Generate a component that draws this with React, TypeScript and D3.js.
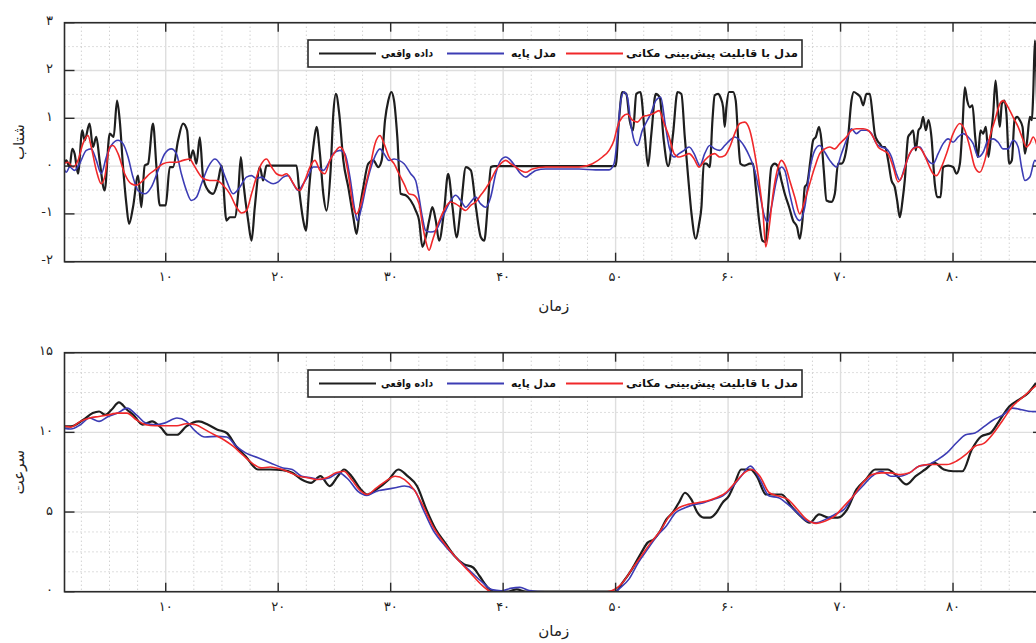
import React from 'react';
import * as d3 from 'd3';

type Pt = [number, number];

// shared time axis
const timeDomain = [1, 88];
const timeTicks = [10, 20, 30, 40, 50, 60, 70, 80];
const timeTickLabels = ['۱۰', '۲۰', '۳۰', '۴۰', '۵۰', '۶۰', '۷۰', '۸۰'];
const timeTitle = 'زمان';

const legendNames = ['داده واقعی', 'مدل پایه', 'مدل با قابلیت پیش‌بینی مکانی'];
const seriesColors = ['#1e1e1e', '#3c3cb4', '#f0282a'];

// acceleration panel
const accDomain = [-2, 3];
const accTicks = [-2, -1, 0, 1, 2, 3];
const accTickLabels = ['-۲', '-۱', '۰', '۱', '۲', '۳'];
const accTitle = 'شتاب';

const accReal: Pt[] = [
  [1.0, 0.08], [1.16, 0.12], [1.45, -0.02], [1.69, 0.36], [1.9, 0.26], [2.2, -0.16], [2.58, 0.75], [2.79, 0.54],
  [3.23, 0.89], [3.53, 0.4], [3.83, 0.61], [4.12, 0.12], [4.57, -0.51], [5.02, 0.68], [5.37, 0.61], [5.67, 1.37],
  [5.91, 0.96], [6.2, 0.0], [6.5, -0.79], [6.74, -1.21], [7.09, -0.86], [7.54, -0.2], [7.83, -0.86], [8.13, 0.01],
  [8.43, 0.05], [8.87, 0.89], [9.17, 0.0], [9.47, -0.82], [10, -0.82], [10.36, -0.02], [10.65, -0.02], [11.1, 0.54],
  [11.54, 0.89], [11.9, 0.75], [12.14, 0.12], [12.43, 0.33], [12.73, 0.05], [13.03, 0.6], [13.32, -0.23], [13.77, -0.51],
  [14.21, -0.58], [14.66, -0.3], [14.96, 0.01], [15.4, -1.14], [15.7, -1.07], [16.14, -1.07], [16.44, -0.58], [16.68, 0.19],
  [16.88, -0.3], [17.33, -1.14], [17.63, -1.56], [17.92, -0.86], [18.37, -0.02], [18.66, -0.3], [18.96, 0.01], [21.63, 0.01],
  [21.87, -0.51], [22.23, -1.14], [22.46, -1.35], [22.76, -0.44], [23.12, 0.4], [23.41, 0.82], [23.71, 0.26], [24.01, -0.58],
  [24.3, -0.93], [24.66, -0.09], [24.9, 1.09], [25.13, 1.51], [25.43, 1.09], [25.79, 0.12], [26.23, -0.44], [26.68, -1.07],
  [26.97, -1.42], [27.27, -0.86], [27.57, -0.44], [28.01, 0.05], [28.46, 0.12], [28.9, -0.02], [29.2, 0.12], [29.5, 0.96],
  [29.79, 1.37], [30.06, 1.55], [30.3, 1.37], [30.59, 0.61], [30.89, -0.58], [31.34, -0.61], [31.78, -0.72], [32.23, -0.93],
  [32.53, -1.14], [32.82, -1.69], [33.12, -1.49], [33.42, -1.14], [33.71, -0.86], [34.01, -1.14], [34.31, -1.56], [34.75, -0.93],
  [35.11, -0.16], [35.5, -0.86], [35.85, -1.49], [36.24, -0.86], [36.69, -0.02], [37.13, -0.09], [37.58, -0.86], [38.02, -1.49],
  [38.32, -1.56], [38.62, -0.86], [38.92, -0.02], [39.21, 0], [50.0, 0], [50.3, 0.96], [50.59, 1.55], [50.95, 1.51],
  [51.25, 0.96], [51.55, 0.75], [51.84, 1.51], [52.2, 1.55], [52.59, 0.68], [52.88, 0], [53.18, 0.68], [53.57, 1.51],
  [53.92, 1.44], [54.28, 0.54], [54.67, 0], [55.11, 0.68], [55.5, 1.55], [55.85, 1.51], [56.15, 0.61], [56.45, -0.23],
  [56.75, -1.0], [57.13, -1.52], [57.43, -1.2], [57.63, -0.86], [57.84, 0.05], [58.07, 0.05], [58.37, -0.02], [58.61, 0.96],
  [58.81, 1.48], [59.11, 1.51], [59.32, 1.44], [59.56, 1.23], [59.7, 0.82], [59.85, 1.23], [60.09, 1.55], [60.44, 1.55],
  [60.68, 1.37], [60.89, 0.61], [61.1, 0.05], [61.48, 0.01], [61.93, 0.05], [62.22, 0.05], [62.46, -0.44], [62.76, -1.14],
  [63.05, -1.56], [63.35, -1.59], [63.56, -0.86], [63.85, -0.02], [64.15, 0.05], [64.45, -0.02], [64.74, -0.3], [65.04, -0.58],
  [65.43, -0.86], [65.78, -1.14], [66.14, -1.28], [66.37, -1.52], [66.61, -1.14], [66.82, -0.44], [67.03, -0.37], [67.32, 0.12],
  [67.56, 0.54], [67.8, 0.61], [68.09, 0.82], [68.3, 0.54], [68.51, -0.09], [68.75, -0.72], [69.19, -0.75], [69.49, -0.58],
  [69.78, 0.05], [70.08, 0.05], [70.38, 0.19], [70.67, 0.61], [70.97, 1.37], [71.18, 1.55], [71.47, 1.51], [71.77, 1.44],
  [72.01, 1.27], [72.3, 1.51], [72.6, 1.51], [72.84, 1.09], [73.04, 0.68], [73.25, 0.54], [73.49, 0.47], [73.73, 0.4],
  [73.96, 0.4], [74.23, 0.12], [74.53, -0.3], [74.82, -0.44], [75.03, -0.72], [75.27, -1.07], [75.51, -0.72], [75.71, -0.3],
  [76.01, 0.61], [76.22, 0.68], [76.45, 0.75], [76.69, 0.33], [76.93, 0.75], [77.14, 0.82], [77.34, 1.03], [77.58, 0.75],
  [77.82, 0.96], [78.08, 0.61], [78.38, -0.37], [78.59, -0.65], [78.89, -0.65], [79.12, -0.02], [79.57, 0.01], [80.01, -0.02],
  [80.31, -0.16], [80.61, 0.05], [80.84, 0.82], [81.05, 1.65], [81.26, 1.37], [81.49, 1.23], [81.73, 1.27], [81.97, 0.61],
  [82.21, 0.19], [82.44, 0.75], [82.68, 0.68], [82.92, 0.82], [83.15, 0.19], [83.39, 0.68], [83.57, 1.09], [83.78, 1.79],
  [83.98, 1.23], [84.16, 0.82], [84.34, 1.3], [84.58, 1.37], [84.75, 1.09], [84.99, 0.05], [85.23, 0.12], [85.47, 0.96],
  [85.7, 1.03], [85.94, 0.96], [86.18, 0.82], [86.39, 0.26], [86.59, 0.54], [86.83, 1.03], [87.01, 0.96], [87.13, 1.51],
  [87.28, 2.63], [87.5, 1.0],
];

const accBase: Pt[] = [
  [1.0, -0.08], [1.16, -0.13], [1.45, -0.02], [1.9, -0.09], [2.34, 0.05], [2.94, 0.33], [3.38, 0.36], [3.83, 0.12],
  [4.27, -0.16], [4.72, 0.19], [5.16, 0.43], [5.76, 0.54], [6.2, 0.47], [6.65, 0.19], [7.09, -0.23], [7.54, -0.51],
  [8.13, -0.58], [8.72, -0.44], [9.32, -0.09], [9.91, 0.26], [10.5, 0.36], [10.95, 0.26], [11.39, -0.16], [11.84, -0.51],
  [12.28, -0.72], [12.73, -0.65], [13.18, -0.37], [13.77, -0.02], [14.36, 0.15], [14.81, 0.05], [15.4, -0.3], [15.99, -0.58],
  [16.59, -0.44], [17.18, -0.23], [17.63, -0.2], [18.07, -0.26], [18.52, -0.23], [18.96, -0.3], [19.55, -0.37], [20.0, -0.33],
  [20.45, -0.23], [20.89, -0.2], [21.34, -0.37], [21.78, -0.51], [22.23, -0.37], [22.67, -0.2], [23.12, -0.02], [23.56, -0.02],
  [24.01, -0.09], [24.45, 0.05], [24.9, 0.26], [25.49, 0.33], [25.93, 0.26], [26.38, -0.23], [26.82, -0.93], [27.03, -1.14],
  [27.42, -0.86], [27.86, -0.37], [28.46, 0.12], [29.05, 0.36], [29.41, 0.26], [29.85, 0.12], [30.3, 0.15], [30.74, 0.12],
  [31.19, 0.05], [31.78, -0.16], [32.22, -0.3], [32.52, -0.65], [32.82, -1.07], [33.11, -1.35], [33.56, -1.38], [34.0, -1.35],
  [34.45, -1.14], [34.89, -0.93], [35.34, -0.72], [35.78, -0.61], [36.23, -0.72], [36.67, -0.86], [37.12, -0.75], [37.56, -0.65],
  [38.0, -0.79], [38.45, -0.86], [38.89, -0.65], [39.34, -0.16], [39.78, 0.12], [40.23, 0.19], [40.67, 0.12], [41.12, -0.02],
  [41.56, -0.16], [42.01, -0.23], [42.45, -0.16], [42.9, -0.09], [43.79, -0.06], [45.27, -0.06], [46.75, -0.06], [48.23, -0.08],
  [49.42, -0.08], [49.86, 0.05], [50.16, 0.61], [50.46, 1.37], [50.75, 1.55], [51.05, 1.44], [51.35, 0.89], [51.64, 0.54],
  [51.94, 0.43], [52.38, 0.75], [52.83, 0.96], [53.12, 1.09], [53.57, 1.37], [54.01, 1.44], [54.4, 0.89], [54.76, 0.4],
  [55.2, 0.19], [55.64, 0.26], [56.09, 0.33], [56.53, 0.4], [56.98, 0.26], [57.36, 0.05], [57.48, 0.0], [57.92, 0.26],
  [58.37, 0.43], [58.81, 0.36], [59.26, 0.33], [59.7, 0.43], [60.15, 0.54], [60.59, 0.61], [61.04, 0.54], [61.48, 0.4],
  [61.93, 0.19], [62.37, -0.09], [62.82, -0.58], [63.26, -1.07], [63.5, -1.17], [63.85, -0.86], [64.3, -0.3], [64.74, -0.02],
  [65.04, -0.09], [65.48, -0.58], [65.93, -1.0], [66.37, -1.14], [66.82, -0.86], [67.26, -0.09], [67.71, 0.33], [68.15, 0.43],
  [68.6, 0.29], [69.04, 0.12], [69.64, -0.02], [70.08, 0.26], [70.52, 0.54], [70.97, 0.78], [71.41, 0.68], [71.86, 0.75],
  [72.3, 0.75], [72.75, 0.68], [73.19, 0.47], [73.64, 0.4], [74.08, 0.36], [74.53, 0.19], [74.97, -0.16], [75.27, -0.3],
  [75.71, -0.02], [76.16, 0.26], [76.6, 0.4], [77.05, 0.4], [77.49, 0.22], [77.94, 0.08], [78.23, 0.05], [78.68, 0.26],
  [79.12, 0.47], [79.57, 0.57], [80.01, 0.5], [80.46, 0.61], [80.9, 0.68], [81.35, 0.61], [81.79, 0.47], [82.24, 0.19],
  [82.68, 0.29], [83.12, 0.54], [83.57, 0.57], [84.01, 0.5], [84.46, 0.36], [84.9, 0.36], [85.35, 0.54], [85.79, 0.4],
  [86.09, -0.02], [86.39, -0.3], [86.83, -0.23], [87.28, 0.12], [87.6, 0.0],
];

const accSpatial: Pt[] = [
  [1.0, 0.06], [1.31, 0.08], [1.75, -0.02], [2.2, 0.12], [2.64, 0.47], [3.09, 0.64], [3.38, 0.4], [3.83, -0.09],
  [4.27, -0.37], [4.57, -0.23], [5.02, 0.4], [5.31, 0.43], [5.76, 0.26], [6.35, -0.16], [6.94, -0.37], [7.39, -0.4],
  [7.98, -0.3], [8.58, -0.16], [9.17, -0.06], [9.76, 0.05], [10.36, 0.08], [10.95, 0.08], [11.54, 0.12], [12.14, 0.15],
  [12.43, 0.05], [12.88, -0.13], [13.32, -0.26], [13.92, -0.3], [14.51, -0.3], [15.1, -0.4], [15.7, -0.58], [16.29, -0.86],
  [16.74, -0.98], [17.18, -0.93], [17.63, -0.58], [18.07, -0.23], [18.52, 0.05], [18.96, 0.15], [19.41, -0.02], [19.85, -0.16],
  [20.3, -0.2], [20.74, -0.16], [21.19, -0.3], [21.63, -0.47], [21.93, -0.51], [22.37, -0.3], [22.82, -0.02], [23.26, 0.12],
  [23.71, -0.09], [24.15, -0.16], [24.6, 0.12], [25.04, 0.29], [25.49, 0.4], [25.79, 0.33], [26.23, -0.16], [26.68, -0.86],
  [26.97, -1.0], [27.27, -0.86], [27.72, -0.44], [28.16, -0.02], [28.61, 0.47], [29.05, 0.64], [29.41, 0.47], [29.85, 0.19],
  [30.3, 0.05], [30.74, -0.16], [31.19, -0.37], [31.63, -0.58], [32.08, -0.61], [32.52, -0.79], [32.82, -1.21], [33.11, -1.56],
  [33.41, -1.76], [33.71, -1.56], [34.0, -1.35], [34.45, -1.07], [34.89, -0.86], [35.34, -0.75], [35.78, -0.79], [36.23, -0.86],
  [36.67, -0.93], [37.12, -0.82], [37.56, -0.75], [38.0, -0.61], [38.45, -0.47], [38.89, -0.3], [39.34, -0.09], [39.78, 0.05],
  [40.23, 0.12], [40.67, 0.05], [41.12, -0.02], [41.56, -0.09], [42.01, -0.13], [42.6, -0.06], [43.79, -0.02], [46.75, -0.02],
  [47.94, 0.05], [48.83, 0.19], [49.42, 0.33], [49.86, 0.54], [50.16, 0.82], [50.61, 1.03], [51.05, 1.09], [51.49, 0.96],
  [51.94, 0.92], [52.38, 1.03], [52.83, 1.06], [53.27, 1.09], [53.87, 1.16], [54.31, 0.89], [54.76, 0.61], [55.2, 0.26],
  [55.64, 0.19], [56.09, 0.22], [56.53, 0.26], [56.98, 0.15], [57.42, -0.02], [57.92, 0.12], [58.37, 0.22], [58.81, 0.26],
  [59.26, 0.19], [59.7, 0.22], [60.15, 0.4], [60.59, 0.68], [61.04, 0.89], [61.48, 0.92], [61.93, 0.75], [62.37, 0.26],
  [62.82, -0.44], [63.11, -1.0], [63.35, -1.69], [63.65, -1.28], [64.0, -0.58], [64.45, -0.02], [64.74, 0.12], [65.13, -0.02],
  [65.48, -0.3], [65.93, -0.65], [66.37, -1.0], [66.82, -0.72], [67.26, -0.37], [67.71, -0.02], [68.15, 0.26], [68.6, 0.36],
  [69.04, 0.4], [69.49, 0.36], [69.93, 0.47], [70.52, 0.61], [70.97, 0.75], [71.41, 0.78], [72.01, 0.78], [72.45, 0.75],
  [72.9, 0.61], [73.34, 0.4], [73.79, 0.33], [74.23, 0.26], [74.68, -0.02], [75.12, -0.33], [75.56, -0.16], [76.01, 0.19],
  [76.45, 0.36], [76.9, 0.4], [77.34, 0.29], [77.79, 0.05], [78.23, -0.16], [78.53, -0.2], [78.97, -0.02], [79.42, 0.26],
  [80.01, 0.68], [80.6, 0.89], [81.05, 0.75], [81.49, 0.4], [81.94, -0.02], [82.38, -0.13], [82.83, 0.12], [83.27, 0.61],
  [83.72, 0.96], [84.16, 1.3], [84.46, 1.37], [84.9, 1.23], [85.35, 1.02], [85.79, 0.82], [86.24, 0.54], [86.53, 0.4],
  [86.83, 0.47], [87.13, 0.61], [87.5, 0.4],
];

// speed panel
const speedDomain = [0, 15];
const speedTicks = [0, 5, 10, 15];
const speedTickLabels = ['۰', '۵', '۱۰', '۱۵'];
const speedTitle = 'سرعت';

const speedReal: Pt[] = [
  [1.0, 10.38], [1.57, 10.38], [2.68, 10.79], [3.51, 11.21], [4.07, 11.31], [4.62, 11.1], [5.18, 11.42], [5.84, 11.88],
  [6.56, 11.42], [7.12, 11.1], [7.95, 10.48], [8.78, 10.69], [9.61, 10.27], [10.17, 9.85], [11.0, 9.85], [11.83, 10.38],
  [12.94, 10.69], [13.77, 10.48], [14.6, 10.17], [15.43, 9.96], [16.26, 9.13], [17.1, 8.5], [18.2, 7.67], [19.31, 7.67],
  [20.42, 7.63], [21.25, 7.46], [22.08, 7.04], [22.92, 6.83], [23.75, 7.25], [24.58, 6.63], [25.3, 7.25], [25.85, 7.67],
  [26.52, 7.25], [27.35, 6.42], [27.9, 6.1], [28.74, 6.42], [29.84, 7.04], [30.68, 7.67], [31.51, 7.25], [32.34, 6.63],
  [33.17, 5.17], [34.0, 3.92], [34.83, 3.08], [35.67, 2.25], [36.5, 1.73], [37.33, 1.52], [37.88, 1.0], [38.71, 0.21],
  [39.27, 0], [40.38, 0], [41.2, 0.15], [42.0, 0], [49.97, 0], [50.63, 0.58], [51.46, 1.42], [52.29, 2.46],
  [52.85, 3.08], [53.4, 3.29], [53.96, 3.81], [54.51, 4.54], [55.07, 4.96], [55.62, 5.58], [56.17, 6.21], [56.73, 5.79],
  [57.28, 4.96], [57.84, 4.65], [58.39, 4.65], [58.95, 4.96], [59.5, 5.58], [60.06, 6.0], [60.61, 6.83], [61.16, 7.67],
  [61.99, 7.67], [62.55, 7.25], [63.38, 6.1], [64.77, 6.1], [65.6, 5.38], [66.43, 4.75], [67.26, 4.33], [68.09, 4.85],
  [68.92, 4.65], [69.76, 4.65], [70.59, 5.17], [71.42, 6.42], [72.25, 7.04], [73.08, 7.67], [74.19, 7.67], [75.02, 7.25],
  [75.85, 6.73], [76.68, 7.25], [77.52, 7.67], [78.35, 8.08], [79.18, 7.67], [80.01, 7.56], [80.84, 7.56], [81.67, 8.92],
  [82.51, 9.75], [83.34, 9.96], [84.17, 10.79], [85.0, 11.63], [85.83, 12.04], [86.66, 12.46], [87.38, 13.1],
];

const speedBase: Pt[] = [
  [1.0, 10.25], [1.57, 10.21], [2.41, 10.48], [3.24, 10.9], [4.07, 10.69], [4.9, 11.0], [5.73, 11.21], [6.56, 11.52],
  [7.39, 11.1], [8.23, 10.58], [9.06, 10.48], [9.89, 10.58], [11.0, 10.9], [11.83, 10.69], [12.66, 10.06], [13.49, 9.71],
  [14.6, 9.75], [15.43, 9.71], [16.26, 9.13], [17.1, 8.71], [18.2, 8.4], [19.31, 8.08], [20.42, 7.77], [21.25, 7.67],
  [22.08, 7.25], [22.92, 7.15], [23.75, 7.04], [24.58, 7.15], [25.41, 7.46], [26.24, 7.04], [27.07, 6.31], [27.9, 6.04],
  [28.74, 6.31], [29.57, 6.42], [30.4, 6.52], [31.23, 6.63], [32.06, 6.42], [32.89, 5.17], [33.73, 3.92], [34.83, 2.88],
  [35.94, 2.04], [37.05, 1.31], [38.16, 0.58], [38.99, 0.13], [39.82, 0.06], [40.65, 0.21], [41.49, 0.27], [42.32, 0.08],
  [43.7, 0], [49.97, 0], [50.35, 0.21], [51.19, 0.79], [52.02, 1.83], [52.85, 2.67], [53.68, 3.5], [54.51, 4.13],
  [55.34, 4.96], [56.17, 5.27], [57.01, 5.48], [57.84, 5.58], [58.67, 5.79], [59.5, 6.0], [60.33, 6.52], [61.16, 7.25],
  [61.99, 7.88], [62.83, 7.04], [63.66, 6.0], [64.49, 5.9], [65.32, 5.48], [66.15, 4.96], [66.98, 4.44], [67.82, 4.33],
  [68.65, 4.54], [69.48, 4.85], [70.31, 5.17], [71.14, 6.0], [71.97, 6.63], [72.81, 7.25], [73.64, 7.56], [74.47, 7.25],
  [75.3, 7.25], [76.13, 7.46], [76.96, 7.88], [77.79, 7.98], [78.63, 8.29], [79.46, 8.71], [80.29, 9.33], [81.12, 9.85],
  [81.95, 9.96], [82.78, 10.38], [83.61, 10.79], [84.45, 11.1], [85.28, 11.52], [86.11, 11.42], [86.94, 11.31], [87.5, 11.3],
];

const speedSpatial: Pt[] = [
  [1.0, 10.38], [1.57, 10.33], [2.41, 10.69], [3.24, 10.9], [4.07, 11.0], [4.9, 11.1], [5.73, 11.21], [6.56, 11.21],
  [7.39, 10.79], [8.23, 10.48], [9.06, 10.42], [9.89, 10.42], [11.0, 10.42], [11.83, 10.54], [12.66, 10.48], [13.49, 10.17],
  [14.32, 9.85], [15.16, 9.54], [15.99, 9.13], [16.82, 8.6], [17.65, 8.08], [18.48, 7.77], [19.31, 7.83], [20.14, 7.71],
  [20.98, 7.5], [21.81, 7.25], [22.64, 7.15], [23.47, 7.04], [24.3, 7.15], [25.13, 7.46], [25.85, 7.56], [26.52, 7.04],
  [27.35, 6.31], [27.9, 6.1], [28.74, 6.52], [29.57, 6.94], [30.4, 7.25], [31.23, 7.04], [32.06, 6.42], [32.89, 5.38],
  [33.73, 4.13], [34.83, 2.98], [35.94, 2.04], [37.05, 1.21], [38.16, 0.38], [38.99, 0], [49.25, 0], [49.97, 0.17],
  [50.63, 0.58], [51.46, 1.42], [52.29, 2.25], [53.13, 3.08], [53.96, 3.81], [54.79, 4.75], [55.62, 5.27], [56.45, 5.48],
  [57.28, 5.58], [58.12, 5.69], [58.95, 5.9], [59.78, 6.21], [60.61, 6.83], [61.44, 7.46], [62.11, 7.67], [62.83, 7.25],
  [63.66, 6.21], [64.49, 6.0], [65.32, 5.79], [66.15, 5.17], [66.98, 4.54], [67.82, 4.29], [68.65, 4.44], [69.48, 4.75],
  [70.31, 5.38], [71.14, 6.0], [71.97, 6.83], [72.81, 7.35], [73.64, 7.46], [74.47, 7.46], [75.3, 7.35], [76.13, 7.46],
  [76.96, 7.88], [77.79, 7.98], [78.63, 7.98], [79.46, 7.98], [80.29, 8.19], [81.12, 8.6], [81.95, 9.13], [82.78, 9.33],
  [83.61, 9.96], [84.45, 10.79], [85.28, 11.63], [86.11, 12.15], [86.94, 12.67], [87.5, 13.0],
];

const FONT = '"DejaVu Sans", sans-serif';
const AXIS = '#2b2b2b';

type PanelProps = {
  id: string;
  top: number;
  bottom: number;
  yDomain: number[];
  yTicks: number[];
  yTickLabels: string[];
  yMinorStep: number;
  yTitle: string;
  xTitleGap: number;
  series: Pt[][];
};

const Panel = ({ id, top, bottom, yDomain, yTicks, yTickLabels, yMinorStep, yTitle, xTitleGap, series }: PanelProps) => {
  const left = 64.5;
  const right = 1043;
  const x = d3.scaleLinear().domain(timeDomain).range([left, right]);
  const y = d3.scaleLinear().domain(yDomain).range([bottom, top]);
  const line = d3.line<Pt>().x(d => x(d[0])).y(d => y(d[1])).curve(d3.curveMonotoneX);

  const xMinor = d3.range(2.5, timeDomain[1], 2.5).filter(t => t % 10 !== 0);
  const yMinor = d3.range(yDomain[0], yDomain[1], yMinorStep).filter(v => !yTicks.includes(v));
  const widths = [2.2, 1.6, 1.6];

  // legend geometry
  const lgTop = top + 17.3;
  const lgMid = lgTop + 13.5;
  const legendLines = [[319, 376], [447, 504], [566, 623]];
  const legendText = [[381, 433], [511, 556], [626, 798]];

  return (
    <g>
      <defs>
        <clipPath id={id}>
          <rect x={left} y={top} width={right - left} height={bottom - top} />
        </clipPath>
      </defs>
      <rect x={left} y={top} width={right - left} height={bottom - top} fill="#fff" />
      {/* minor grid */}
      {xMinor.map(t => (
        <line key={'xm' + t} x1={x(t)} x2={x(t)} y1={top} y2={bottom}
          stroke="#bdbdbd" strokeWidth={1} strokeDasharray="1 3" />
      ))}
      {yMinor.map(v => (
        <line key={'ym' + v} x1={left} x2={right} y1={y(v)} y2={y(v)}
          stroke="#bdbdbd" strokeWidth={1} strokeDasharray="1 3" />
      ))}
      {/* major grid */}
      {timeTicks.map(t => (
        <line key={'xg' + t} x1={x(t)} x2={x(t)} y1={top} y2={bottom} stroke="#dedede" strokeWidth={1.4} />
      ))}
      {yTicks.map(v => (
        <line key={'yg' + v} x1={left} x2={right} y1={y(v)} y2={y(v)} stroke="#dedede" strokeWidth={1.4} />
      ))}

      <g clipPath={`url(#${id})`}>
        {series.map((s, i) => (
          <path key={i} d={line(s) ?? ''} fill="none" stroke={seriesColors[i]}
            strokeWidth={widths[i]} strokeLinejoin="round" />
        ))}
      </g>

      {/* frame and ticks */}
      <rect x={left} y={top} width={right - left} height={bottom - top} fill="none" stroke={AXIS} strokeWidth={1.6} />
      {timeTicks.map(t => (
        <g key={'xt' + t}>
          <line x1={x(t)} x2={x(t)} y1={bottom} y2={bottom - 9} stroke={AXIS} strokeWidth={1.4} />
          <line x1={x(t)} x2={x(t)} y1={top} y2={top + 9} stroke={AXIS} strokeWidth={1.4} />
        </g>
      ))}
      {yTicks.map(v => (
        <g key={'yt' + v}>
          <line x1={left} x2={left + 10} y1={y(v)} y2={y(v)} stroke={AXIS} strokeWidth={1.4} />
          <line x1={right} x2={right - 10} y1={y(v)} y2={y(v)} stroke={AXIS} strokeWidth={1.4} />
        </g>
      ))}

      {/* tick labels */}
      {timeTicks.map((t, i) => (
        <text key={'xl' + t} x={x(t)} y={bottom + 15} textAnchor="middle" dominantBaseline="central"
          fontFamily={FONT} fontSize={13} fill="#222">{timeTickLabels[i]}</text>
      ))}
      {yTicks.map((v, i) => (
        <text key={'yl' + v} x={53} y={y(v) - 2} textAnchor="end" dominantBaseline="central"
          fontFamily={FONT} fontSize={13} fill="#222" direction="ltr">{yTickLabels[i]}</text>
      ))}

      {/* axis titles */}
      <text x={(left + right) / 2} y={bottom + xTitleGap} textAnchor="middle" dominantBaseline="central"
        fontFamily={FONT} fontSize={15} fill="#222">{timeTitle}</text>
      <text transform={`translate(19,${(top + bottom) / 2}) rotate(-90)`} textAnchor="middle"
        dominantBaseline="central" fontFamily={FONT} fontSize={15} fill="#222">{yTitle}</text>

      {/* legend */}
      <rect x={308} y={lgTop} width={494} height={27} fill="#fff" stroke={AXIS} strokeWidth={1.6} />
      {legendNames.map((name, i) => (
        <g key={'lg' + i}>
          <line x1={legendLines[i][0]} x2={legendLines[i][1]} y1={lgMid} y2={lgMid}
            stroke={seriesColors[i]} strokeWidth={2} />
          <text x={(legendText[i][0] + legendText[i][1]) / 2} y={lgMid} textAnchor="middle"
            dominantBaseline="central" fontFamily={FONT} fontSize={11} fontWeight="bold" fill="#111"
            textLength={legendText[i][1] - legendText[i][0]} lengthAdjust="spacingAndGlyphs">{name}</text>
        </g>
      ))}
    </g>
  );
};

export default function App() {
  return (
    <div style={{ position: 'absolute', left: 0, top: 0 }}>
      <svg width={1036} height={643} style={{ display: 'block', background: '#fff' }}>
        <Panel id="clip-acc" top={22.7} bottom={261.7} yDomain={accDomain} yTicks={accTicks}
          yTickLabels={accTickLabels} yMinorStep={0.5} yTitle={accTitle} xTitleGap={44}
          series={[accReal, accBase, accSpatial]} />
        <Panel id="clip-speed" top={352.7} bottom={591.7} yDomain={speedDomain} yTicks={speedTicks}
          yTickLabels={speedTickLabels} yMinorStep={1.25} yTitle={speedTitle} xTitleGap={39}
          series={[speedReal, speedBase, speedSpatial]} />
      </svg>
    </div>
  );
}
